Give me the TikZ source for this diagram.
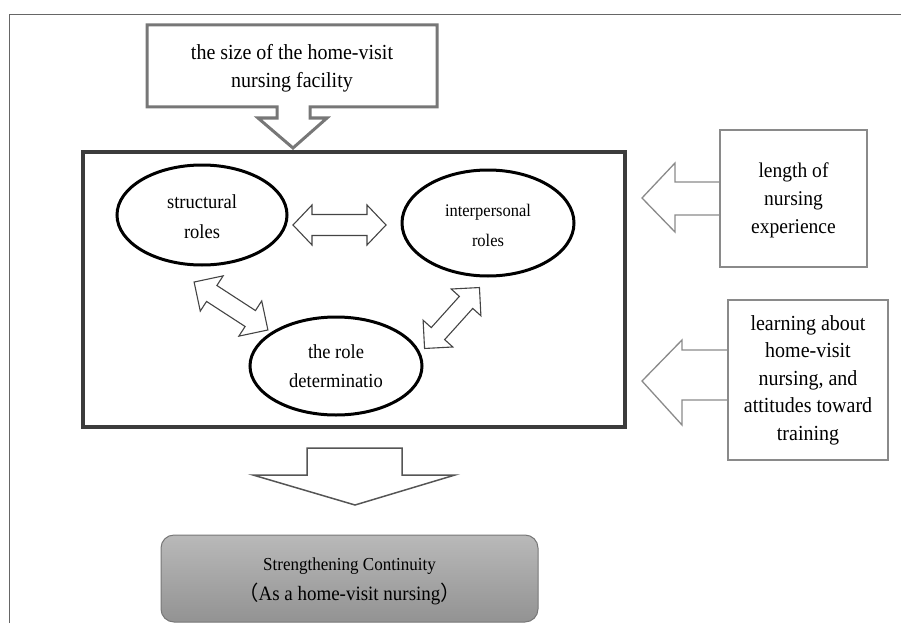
\documentclass[tikz,border=0pt]{standalone}
\usepackage{fontspec}
\setmainfont{Liberation Serif}[FakeStretch=0.93]
\newfontfamily\cjkfont{Noto Sans CJK SC}
\usetikzlibrary{shapes.geometric}
\definecolor{framegray}{HTML}{666666}
\definecolor{callgray}{HTML}{777777}
\definecolor{boxdark}{HTML}{3C3C3C}
\definecolor{litegray}{HTML}{8A8A8A}
\definecolor{arrgray}{HTML}{555555}
\tikzset{
  txt/.style={align=center, inner sep=0pt},
  oval/.style={ellipse, draw=black, line width=3pt, inner sep=0pt},
  sidebox/.style={draw=litegray, line width=1.3pt, inner sep=0pt},
  sidearrow/.style={draw=litegray, line width=1.3pt, line join=miter},
  dblline/.style={draw=arrgray!80!black, line width=1.1pt, fill=white, line join=miter},
  pics/dblarr/.style args={#1/#2/#3/#4}{code={
    \path[dblline] (-#1,0) -- (-#1+#2,-#3) -- (-#1+#2,-#4) -- (#1-#2,-#4) -- (#1-#2,-#3)
      -- (#1,0) -- (#1-#2,#3) -- (#1-#2,#4) -- (-#1+#2,#4) -- (-#1+#2,#3) -- cycle;
  }}
}
\begin{document}
\begin{tikzpicture}[x=1pt,y=-1pt]
\useasboundingbox (0,0) rectangle (901,623);
% outer frame lines
\draw[framegray, line width=1pt] (9,623) -- (9,15) -- (901,15);

% top callout
\draw[callgray, line width=3pt, line join=miter]
  (147,25) -- (437,25) -- (437,107) -- (310,107) -- (310,118) -- (327,118)
  -- (293,148) -- (258,118) -- (277,118) -- (277,107) -- (147,107) -- cycle;
\node[txt, font=\fontsize{21.5}{28}\selectfont] (size) at (292,68)
  {the size of the home-visit\\nursing facility};

% main box
\node[draw=boxdark, line width=4pt, minimum width=542pt, minimum height=275pt, inner sep=0pt]
  (main) at (354,289.5) {};

% ellipses
\node[oval, minimum width=170pt, minimum height=100pt] (struct) at (202,215) {};
\node[txt, font=\fontsize{19.9}{30}\selectfont] (structt) at (202,217) {structural\\roles};
\node[oval, minimum width=172pt, minimum height=106pt] (inter) at (488,223) {};
\node[txt, font=\fontsize{17.7}{30}\selectfont] (intert) at (488,225) {interpersonal\\roles};
\node[oval, minimum width=172pt, minimum height=98pt] (role) at (336,366) {};
\node[txt, font=\fontsize{19.9}{29}\selectfont] (rolet) at (336,366) {the role\\determinatio};

% double arrows
\pic at (339.5,225) {dblarr={46.5/19/20/10.5}};
\pic[rotate=-33] at (231,306) {dblarr={44/21/21/9.5}};
\pic[rotate=48] at (452,318) {dblarr={41/20/20/9}};

% right boxes
\node[sidebox, minimum width=147pt, minimum height=137pt] (len) at (793.5,198.5) {};
\node[txt, font=\fontsize{21}{28}\selectfont] (lent) at (793.5,200) {length of\\nursing\\experience};
\draw[sidearrow] (720,182) -- (675,182) -- (675,163) -- (642,198) -- (675,232) -- (675,215) -- (720,215);

\node[sidebox, minimum width=160pt, minimum height=160pt] (learn) at (808,380) {};
\node[txt, font=\fontsize{21.5}{27.5}\selectfont] (learnt) at (808,380)
  {learning about\\home-visit\\nursing, and\\attitudes toward\\training};
\draw[sidearrow] (728,350) -- (682,350) -- (682,340) -- (642,381) -- (682,425) -- (682,400) -- (728,400);

% bottom arrow
\draw[arrgray, line width=1.5pt, line join=miter]
  (307,448) -- (402,448) -- (402,475) -- (455,475) -- (355,505) -- (253,475) -- (307,475) -- cycle;

% bottom box
\node[draw=callgray, line width=1pt, rounded corners=13pt, top color=gray!55, bottom color=gray!85,
  minimum width=377pt, minimum height=87pt, inner sep=0pt] (cont) at (349.5,578.5) {};
\node[txt, font=\fontsize{18.3}{20}\selectfont] (contt1) at (349.5,566) {Strengthening Continuity};
\node[txt, font=\fontsize{20.4}{22}\selectfont] (contt2) at (349.5,594)
  {{\cjkfont （}As a home-visit nursing{\cjkfont ）}};
\end{tikzpicture}
\end{document}
